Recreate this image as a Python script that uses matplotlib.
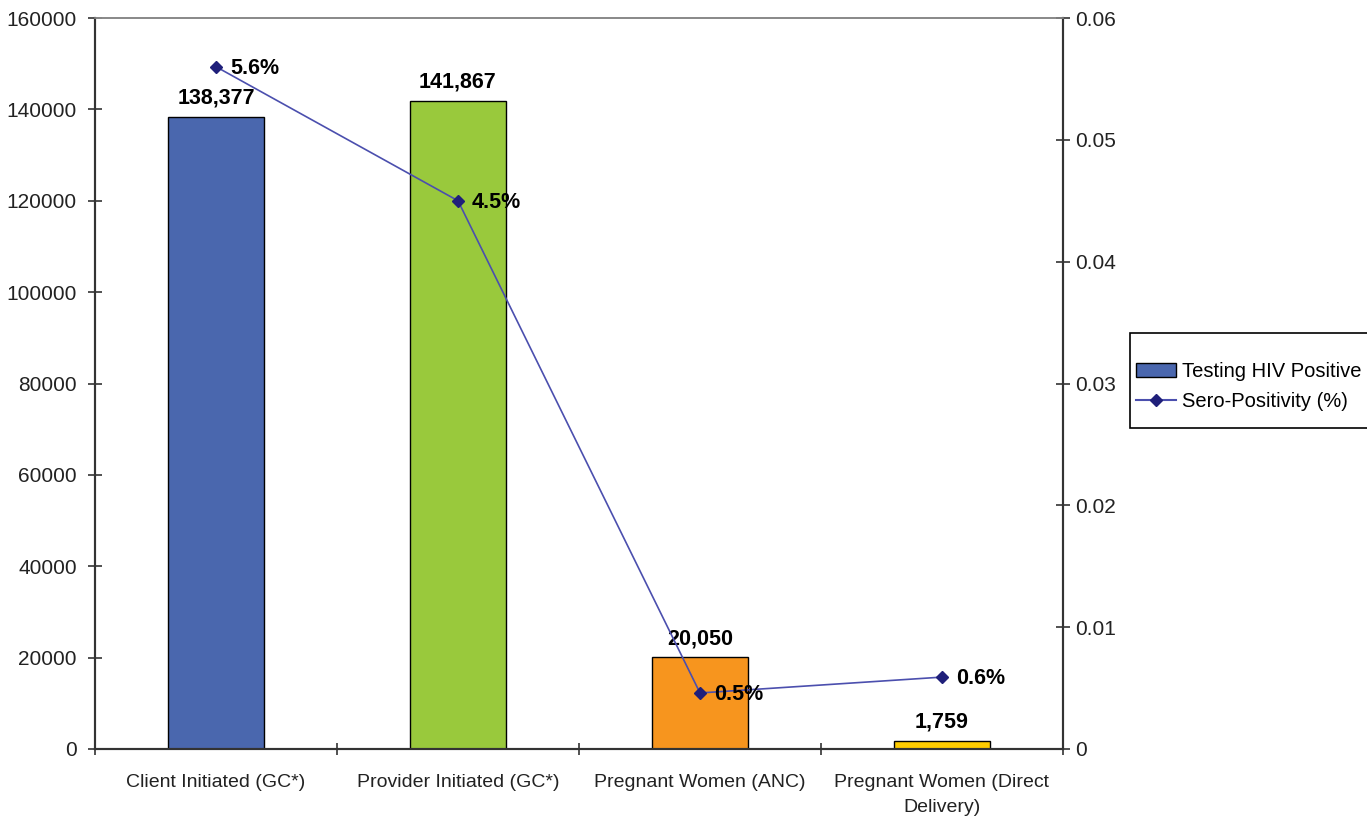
import numpy as np
import matplotlib.pyplot as plt
from matplotlib.lines import Line2D
from matplotlib.patches import Patch, Rectangle
from matplotlib.ticker import FixedLocator, FuncFormatter

plt.rcParams['font.family'] = ['Liberation Sans', 'DejaVu Sans']

categories = ["Client Initiated (GC*)", "Provider Initiated (GC*)",
              "Pregnant Women (ANC)", "Pregnant Women (Direct\nDelivery)"]
positives = [138377, 141867, 20050, 1759]
sero = [0.056, 0.045, 0.0046, 0.0059]
bar_colors = ["#4A67AE", "#99C93C", "#F7951E", "#FFCC00"]

fig = plt.figure(figsize=(13.67, 8.18), dpi=100)
ax = fig.add_axes([95 / 1367, 1 - 749 / 818, (1063 - 95) / 1367, (749 - 18) / 818])
ax2 = ax.twinx()

x = np.arange(len(categories))
bars = ax.bar(x, positives, width=0.4, color=bar_colors, edgecolor="black", linewidth=1, zorder=2)
for xi, v in zip(x, positives):
    ax.annotate(f"{v:,}", (xi, v), xytext=(0, 6), textcoords="offset points",
                ha="center", va="bottom", fontsize=15.5, fontweight="bold")

ax.set_xlim(-0.5, len(categories) - 0.5)
ax.set_ylim(0, 160000)
ax.set_yticks(np.arange(0, 160001, 20000))
ax.set_xticks(x)
ax.set_xticklabels(categories, fontsize=14, color="#222222", linespacing=1.6)
ax.xaxis.set_minor_locator(FixedLocator(np.arange(-0.5, len(categories), 1.0)))
ax.tick_params(axis="x", which="major", length=0, pad=18)
ax.tick_params(axis="x", which="minor", length=8, direction="inout", width=1.2, color="#333333")
ax.tick_params(axis="y", length=10, direction="inout", width=1.2, color="#333333",
               labelsize=15, labelcolor="#222222", pad=8)

ax2.plot(x, sero, color="#4B4FAE", linewidth=1.2, marker="D", markersize=6,
         markerfacecolor="#1F1F7A", markeredgecolor="#1F1F7A", zorder=3)
for xi, v in zip(x, sero):
    ax2.annotate(f"{v:.1%}", (xi, v), xytext=(10, -1), textcoords="offset points",
                 ha="left", va="center", fontsize=15.5, fontweight="bold")
ax2.set_ylim(0, 0.06)
ax2.set_yticks(np.arange(0, 0.0601, 0.01))
ax2.yaxis.set_major_formatter(FuncFormatter(lambda v, p: "0" if abs(v) < 1e-9 else f"{v:.2f}"))
ax2.tick_params(axis="y", length=10, direction="inout", width=1.2, color="#333333",
                labelsize=15, labelcolor="#222222", pad=4)

for a in (ax, ax2):
    for s in ("left", "right", "bottom"):
        a.spines[s].set_color("#333333")
        a.spines[s].set_linewidth(1.5)
    a.spines["top"].set_color("#888888")
    a.spines["top"].set_linewidth(1.2)

# legend with frame box
fig.patches.append(Rectangle((1130 / 1367, 1 - 428 / 818), 250 / 1367, 95 / 818,
                             transform=fig.transFigure, facecolor="white",
                             edgecolor="black", linewidth=1.2))
handles = [Patch(facecolor="#4A67AE", edgecolor="black", label="Testing HIV Positive"),
           Line2D([0], [0], color="#4B4FAE", marker="D", markersize=6,
                  markerfacecolor="#1F1F7A", markeredgecolor="#1F1F7A",
                  label="Sero-Positivity (%)")]
fig.legend(handles=handles, loc="upper left", bbox_to_anchor=(1136 / 1367, 1 - 362 / 818),
           frameon=False, fontsize=14.5, handlelength=2.0, handletextpad=0.3,
           labelspacing=0.55, borderpad=0, borderaxespad=0)

fig.savefig("out.png", dpi=100)
